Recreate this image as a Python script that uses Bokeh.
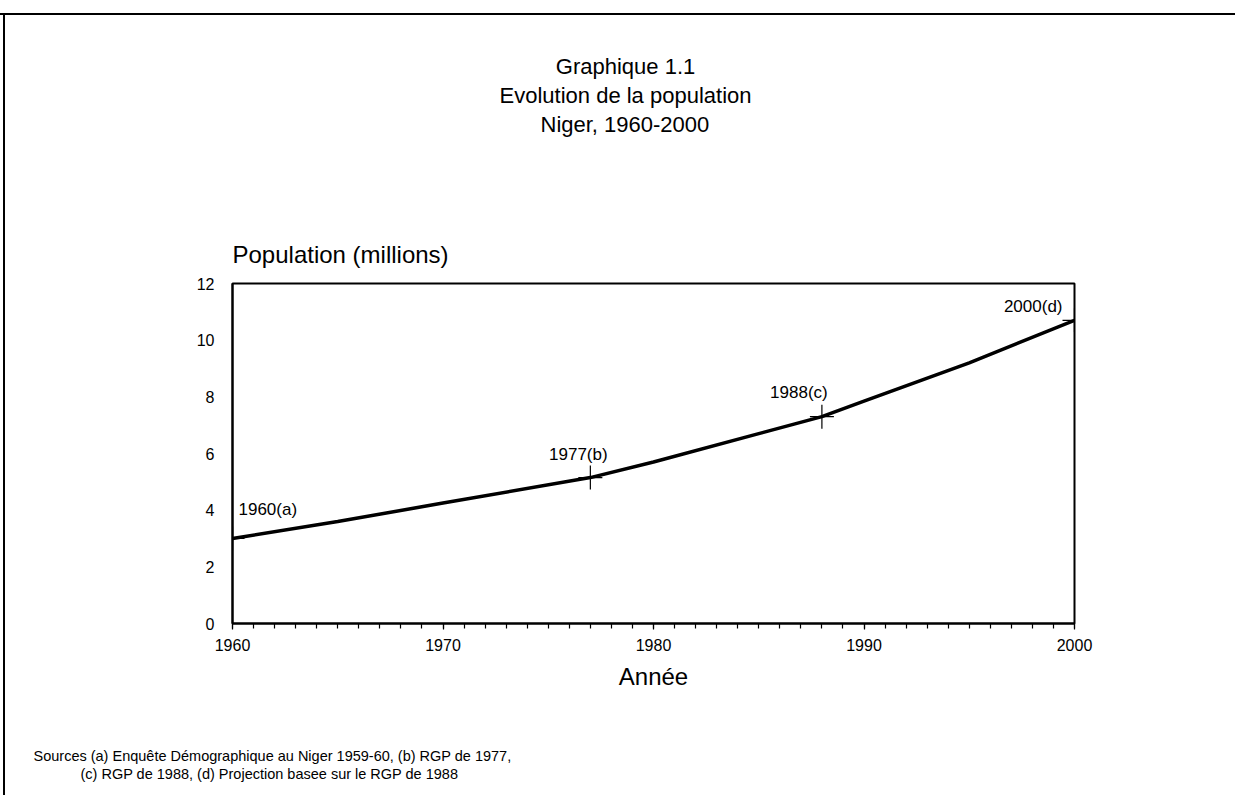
from bokeh.plotting import figure
from bokeh.models import Label, FixedTicker, Range1d, ColumnDataSource, Title
from bokeh.embed import file_html
from bokeh.resources import INLINE

# ---- data ----
years = [1960, 1965, 1970, 1977, 1980, 1985, 1988, 1990, 1995, 2000]
population = [3.0, 3.6, 4.25, 5.15, 5.7, 6.7, 7.3, 7.85, 9.2, 10.7]

census_years = [1960, 1977, 1988, 2000]
census_pop = [3.0, 5.15, 7.3, 10.7]
census_labels = ["1960(a)", "1977(b)", "1988(c)", "2000(d)"]

x_ticks = [1960, 1970, 1980, 1990, 2000]
y_ticks = [0, 2, 4, 6, 8, 10, 12]

title_lines = ["Graphique 1.1", "Evolution de la population", "Niger, 1960-2000"]
y_title = "Population (millions)"
x_title = "Année"
source_lines = [
    "Sources  (a) Enquête Démographique au Niger 1959-60, (b) RGP de 1977,",
    "(c) RGP de 1988, (d) Projection basee sur le RGP de 1988",
]

FONT = "Liberation Sans"
W, H = 1235, 795
FL, FR, FT, FB = 232, 1074, 283, 623   # frame edges in picture pixels

p = figure(width=W, height=H, output_backend="svg", toolbar_location=None,
           x_range=Range1d(1960, 2000), y_range=Range1d(0, 12),
           min_border_left=FL, min_border_right=W - FR,
           min_border_top=FT, min_border_bottom=H - FB)

# page frame lines (top and left) drawn as CSS background behind a transparent border area
p.styles = {
    "background-image": "linear-gradient(#000,#000), linear-gradient(#000,#000)",
    "background-size": "100% 2px, 2px 100%",
    "background-position": "0 13px, 3px 13px",
    "background-repeat": "no-repeat",
}
p.background_fill_color = "white"
p.border_fill_alpha = 0
p.outline_line_color = "black"
p.outline_line_width = 2
p.xgrid.visible = False
p.ygrid.visible = False

# x axis
xa = p.xaxis[0]
xa.ticker = FixedTicker(ticks=x_ticks, minor_ticks=list(range(1960, 2001)))
xa.axis_line_color = "black"
xa.axis_line_width = 2
xa.major_tick_in = 0
xa.major_tick_out = 6
xa.minor_tick_in = 0
xa.minor_tick_out = 5
xa.major_tick_line_color = "black"
xa.minor_tick_line_color = "black"
xa.major_tick_line_width = 1.2
xa.minor_tick_line_width = 1.2
xa.major_label_text_font = FONT
xa.major_label_text_font_size = "16px"
xa.major_label_text_color = "black"
xa.major_label_standoff = 9
xa.axis_label = x_title
xa.axis_label_text_font = FONT
xa.axis_label_text_font_size = "24px"
xa.axis_label_text_font_style = "normal"
xa.axis_label_text_color = "black"
xa.axis_label_standoff = 9

# y axis
ya = p.yaxis[0]
ya.ticker = FixedTicker(ticks=y_ticks)
ya.axis_line_color = "black"
ya.axis_line_width = 2
ya.major_tick_line_color = None
ya.minor_tick_line_color = None
ya.major_tick_in = 0
ya.major_tick_out = 0
ya.major_label_text_font = FONT
ya.major_label_text_font_size = "16px"
ya.major_label_text_color = "black"
ya.major_label_standoff = 18

# data line and census markers
src = ColumnDataSource(dict(x=years, y=population))
p.line("x", "y", source=src, line_color="black", line_width=3.5)
csrc = ColumnDataSource(dict(x=census_years, y=census_pop))
p.scatter("x", "y", source=csrc, marker="cross", size=24,
          line_color="black", line_width=1.2)

# census labels
offsets = [(6, 29, "left"), (-12, 23, "center"), (-23, 24, "center"), (-12, 14, "right")]
for xv, yv, txt, (dx, dy, al) in zip(census_years, census_pop, census_labels, offsets):
    p.add_layout(Label(x=xv, y=yv, text=txt, x_offset=dx, y_offset=dy,
                       text_align=al, text_baseline="middle",
                       text_font=FONT, text_font_size="17px", text_color="black"))

def title(text, size, offset, standoff, where):
    p.add_layout(Title(text=text, align="left", offset=offset, standoff=standoff,
                       text_font=FONT, text_font_size=size, text_font_style="normal",
                       text_color="black"), where)

def spacer(h, where):
    # a blank (white, 1px) title used only to reserve vertical room in a side panel
    p.add_layout(Title(text="\u00a0", standoff=max(h - 3, 0), text_font_size="1px",
                       text_color="white"), where)

# above: first added is nearest the frame
TITLE_PX = 22
TITLE_EM = [6.337, 11.451, 7.726]          # text widths in em (Arial metrics), for centring at x=625
t_off = [625 - FL - e * TITLE_PX / 2 for e in TITLE_EM]
title(y_title, "24px", 0, 32, "above")
spacer(85, "above")
title(title_lines[2], f"{TITLE_PX}px", t_off[2], 2, "above")
title(title_lines[1], f"{TITLE_PX}px", t_off[1], 2, "above")
title(title_lines[0], f"{TITLE_PX}px", t_off[0], 2, "above")

# below: sources under the axis
spacer(53, "below")
title(source_lines[0], "14.5px", 33 - FL, 0, "below")
title(source_lines[1], "14.5px", 80 - FL, 0, "below")

open("out.html", "w").write(file_html(p, INLINE))
